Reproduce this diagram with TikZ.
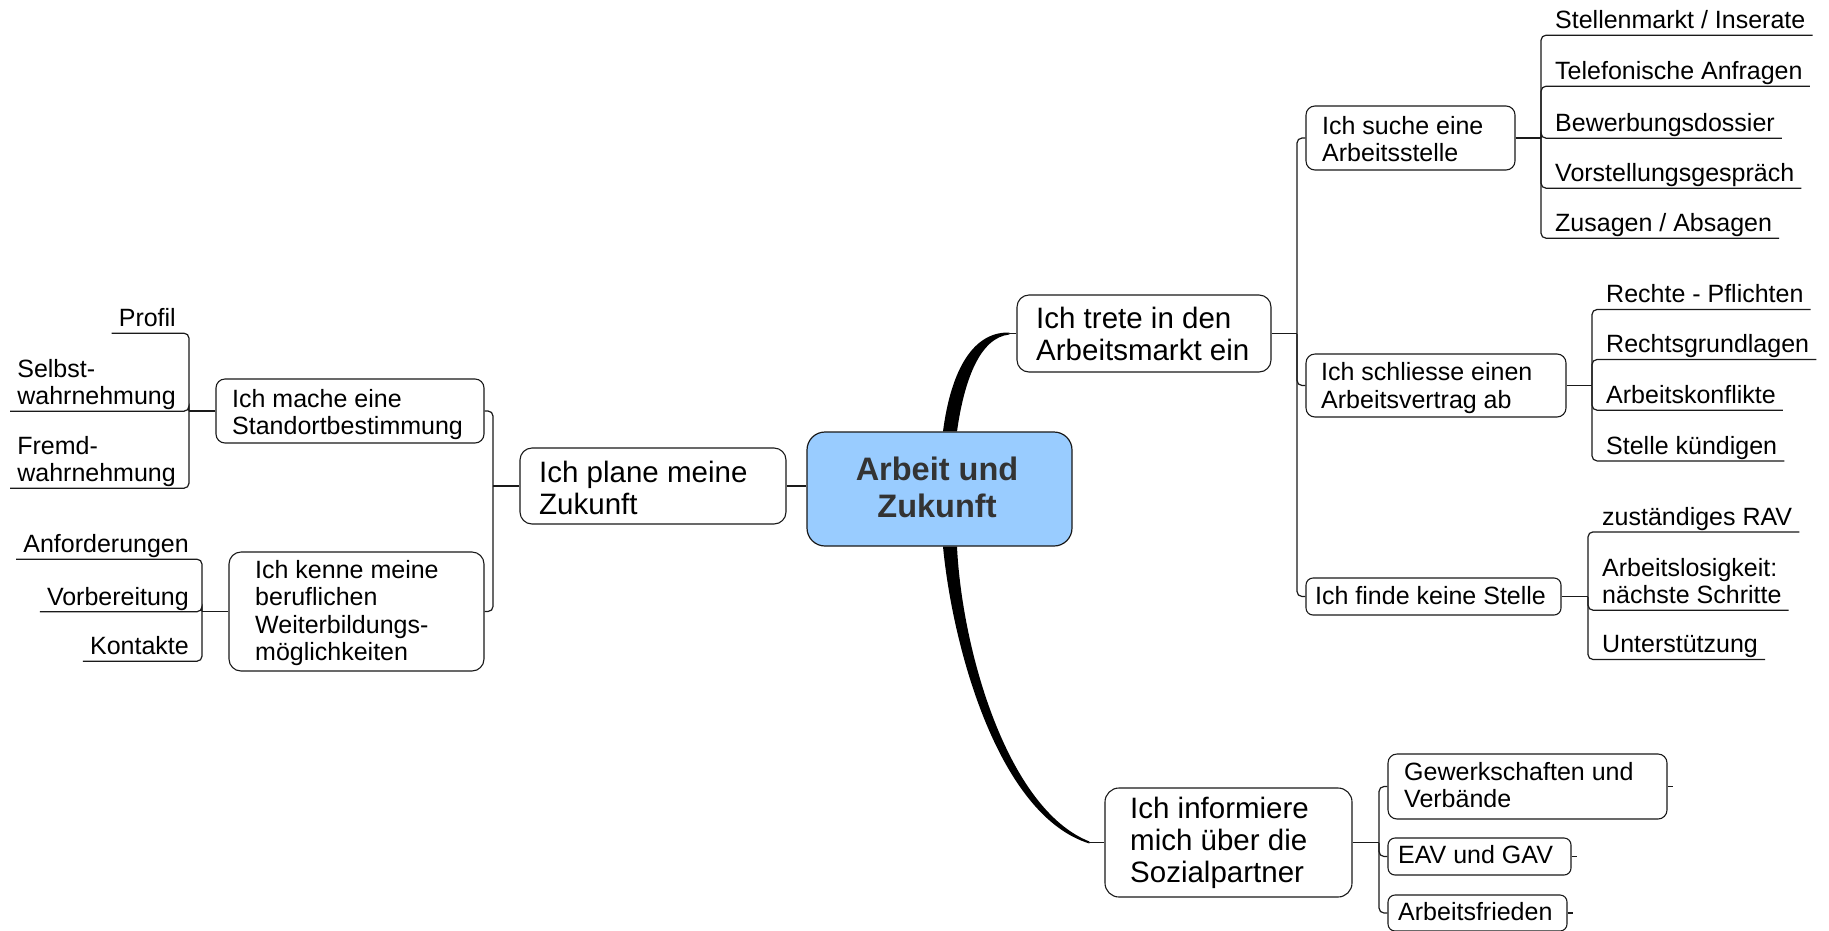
\documentclass[tikz,border=0pt]{standalone}
\usepackage{fontspec}
\setmainfont{Liberation Sans}
\definecolor{centerblue}{HTML}{99CCFF}
\definecolor{linec}{HTML}{1A1A1A}
\definecolor{ctext}{HTML}{333333}
\newcommand\lnst[1]{\begin{tabular}[t]{@{}l@{}}#1\end{tabular}}
\newcommand\lnsb[1]{\begin{tabular}[b]{@{}l@{}}#1\end{tabular}}
\newcommand\lnsc[1]{\begin{tabular}[t]{@{}c@{}}#1\end{tabular}}
\begin{document}
\begin{tikzpicture}[x=1pt,y=-1pt,
  box/.style={draw=linec, line width=1.1pt, rounded corners=9pt, fill=white, inner sep=0pt},
  bigbox/.style={box, rounded corners=12pt},
  ctr/.style={draw=linec, line width=1.2pt, rounded corners=18pt, fill=centerblue, inner sep=0pt},
  conn/.style={draw=linec, line width=1.2pt},
  brk/.style={conn, rounded corners=5pt},
  tone/.style={inner sep=0pt, font=\fontsize{29.5}{32}\selectfont, anchor=base west},
  ttwo/.style={inner sep=0pt, font=\fontsize{25}{27.5}\selectfont, anchor=base west},
  leaf/.style={inner xsep=7pt, inner ysep=0pt, text depth=6.5pt, font=\fontsize{25}{27.5}\selectfont},
  rleaf/.style={leaf, anchor=base west},
  lleaf/.style={leaf, anchor=base east},
  taper/.style={fill=black}
]
\path[fill=white, use as bounding box] (0,0) rectangle (1829,930);

% ---------- central ----------
\node[ctr, minimum width=265pt, minimum height=114pt] (central) at (939.5,489) {};
\node[inner sep=0pt, anchor=base, text=ctext, font=\fontsize{32.5}{37}\selectfont\bfseries] (tcentral) at (937,480) {\lnsc{Arbeit und\\Zukunft}};

% ---------- level 1 ----------
\node[bigbox, minimum width=266pt, minimum height=76pt] (plane) at (653,486) {};
\node[tone] (tplane) at (539,482) {\lnst{Ich plane meine\\Zukunft}};

\node[bigbox, minimum width=254pt, minimum height=77pt] (trete) at (1144,333.5) {};
\node[tone] (ttrete) at (1036,328) {\lnst{Ich trete in den\\Arbeitsmarkt ein}};

\node[bigbox, rounded corners=14pt, minimum width=247pt, minimum height=109pt] (informiere) at (1228.5,842.5) {};
\node[tone] (tinformiere) at (1130,818) {\lnst{Ich informiere\\mich über die\\Sozialpartner}};

% ---------- level 2 ----------
\node[box, minimum width=268pt, minimum height=64pt] (mache) at (350,411) {};
\node[ttwo] (tmache) at (232,407) {\lnst{Ich mache eine\\Standortbestimmung}};

\node[box, rounded corners=12pt, minimum width=255pt, minimum height=119pt] (kenne) at (356.5,611.5) {};
\node[ttwo] (tkenne) at (255,578) {\lnst{Ich kenne meine\\beruflichen\\Weiterbildungs-\\möglichkeiten}};

\node[box, minimum width=209pt, minimum height=64pt] (suche) at (1410.5,138) {};
\node[ttwo] (tsuche) at (1322,134) {\lnst{Ich suche eine\\Arbeitsstelle}};

\node[box, minimum width=260pt, minimum height=63pt] (schliesse) at (1436,385.5) {};
\node[ttwo] (tschliesse) at (1321,380.5) {\lnst{Ich schliesse einen\\Arbeitsvertrag ab}};

\node[box, rounded corners=7pt, minimum width=255pt, minimum height=37pt] (finde) at (1433.5,596.5) {};
\node[ttwo] (tfinde) at (1315,604.5) {Ich finde keine Stelle};

\node[box, minimum width=279pt, minimum height=65pt] (gewerk) at (1527.5,786.5) {};
\node[ttwo] (tgewerk) at (1404,780) {\lnst{Gewerkschaften und\\Verbände}};

\node[box, rounded corners=7pt, minimum width=183pt, minimum height=37pt] (eav) at (1479.5,856.5) {};
\node[ttwo] (teav) at (1398,863) {EAV und GAV};

\node[box, rounded corners=7pt, minimum width=179pt, minimum height=36pt] (frieden) at (1477.5,913) {};
\node[ttwo] (tfrieden) at (1398,920) {Arbeitsfrieden};

% ---------- leaves right ----------
\node[rleaf] (s1) at (1548,28.5) {\lnsb{Stellenmarkt / Inserate}};
\node[rleaf] (s2) at (1548,79.5) {\lnsb{Telefonische Anfragen}};
\node[rleaf] (s3) at (1548,131.5) {\lnsb{Bewerbungsdossier}};
\node[rleaf] (s4) at (1548,181.5) {\lnsb{Vorstellungsgespräch}};
\node[rleaf] (s5) at (1548,231.5) {\lnsb{Zusagen / Absagen}};

\node[rleaf] (v1) at (1599,302.8) {\lnsb{Rechte - Pflichten}};
\node[rleaf] (v2) at (1599,352.8) {\lnsb{Rechtsgrundlagen}};
\node[rleaf] (v3) at (1599,403.5) {\lnsb{Arbeitskonflikte}};
\node[rleaf] (v4) at (1599,454.2) {\lnsb{Stelle kündigen}};

\node[rleaf] (f1) at (1595,525.2) {\lnsb{zuständiges RAV}};
\node[rleaf] (f2) at (1595,603.5) {\lnsb{Arbeitslosigkeit:\\nächste Schritte}};
\node[rleaf] (f3) at (1595,652.8) {\lnsb{Unterstützung}};

% ---------- leaves left ----------
\node[lleaf] (p1) at (183,326.5) {\lnsb{Profil}};
\node[lleaf] (p2) at (183,404.5) {\lnsb{Selbst-\\wahrnehmung}};
\node[lleaf] (p3) at (183,481.5) {\lnsb{Fremd-\\wahrnehmung}};

\node[lleaf] (k1) at (196,552.5) {\lnsb{Anforderungen}};
\node[lleaf] (k2) at (196,605) {\lnsb{Vorbereitung}};
\node[lleaf] (k3) at (196,654.5) {\lnsb{Kontakte}};

% ---------- bracket points ----------
\coordinate (bP) at (493,486);
\coordinate (bM) at (189,411);
\coordinate (bK) at (202,611.5);
\coordinate (bT) at (1297,333.5);
\coordinate (bS) at (1541,138);
\coordinate (bV) at (1592,385.5);
\coordinate (bF) at (1588,596.5);
\coordinate (bI) at (1379,842.5);

% ---------- thick tapered branches ----------
\fill[taper] ([xshift=3.5pt]central.north) .. controls +(7,-54) and +(-40,-1) .. ([xshift=-7pt,yshift=1pt]trete.west)
  -- ([xshift=-7pt,yshift=-1pt]trete.west) .. controls +(-30,3) and +(7,-50) .. ([xshift=17.5pt]central.north) -- cycle;
\draw[conn] ([xshift=-8pt]trete.west) -- (trete.west);

\fill[taper] ([xshift=3.5pt]central.south) .. controls +(10,104) and +(-90,-27.5) .. ([xshift=-15pt,yshift=-1pt]informiere.west)
  -- ([xshift=-15pt,yshift=1pt]informiere.west) .. controls +(-82,-32.5) and +(5,104) .. ([xshift=17.5pt]central.south) -- cycle;
\draw[conn] ([xshift=-16pt]informiere.west) -- (informiere.west);

\draw[conn] (plane.east) -- (central.west |- plane.east);

% ---------- left side ----------
\draw[conn] (plane.west) -- (bP);
\draw[brk] (bP) |- (mache.east);
\draw[brk] (bP) |- (kenne.east);

\draw[conn] (mache.west) -- (bM);
\draw[brk] (bM) |- (p1.south west);
\draw[brk] (bM) |- (p2.south west);
\draw[brk] (bM) |- (p3.south west);

\draw[conn] (kenne.west) -- (bK);
\draw[brk] (bK) |- (k1.south west);
\draw[brk] (bK) |- (k2.south west);
\draw[brk] (bK) |- (k3.south west);

% ---------- right side ----------
\draw[conn] (trete.east) -- (bT);
\draw[brk] (bT) |- (suche.west);
\draw[brk] (bT) |- (schliesse.west);
\draw[brk] (bT) |- (finde.west);

\draw[conn] (suche.east) -- (bS);
\foreach \n in {s1,s2,s3,s4,s5} \draw[brk] (bS) |- (\n.south east);

\draw[conn] (schliesse.east) -- (bV);
\foreach \n in {v1,v2,v3,v4} \draw[brk] (bV) |- (\n.south east);

\draw[conn] (finde.east) -- (bF);
\foreach \n in {f1,f2,f3} \draw[brk] (bF) |- (\n.south east);

\draw[conn] (informiere.east) -- (bI);
\draw[brk] (bI) |- (gewerk.west);
\draw[brk] (bI) |- (eav.west);
\draw[brk] (bI) |- (frieden.west);
\draw[conn] (gewerk.east) -- ++(5,0);
\draw[conn] (eav.east) -- ++(5,0);
\draw[conn] (frieden.east) -- ++(5,0);
\end{tikzpicture}
\end{document}
